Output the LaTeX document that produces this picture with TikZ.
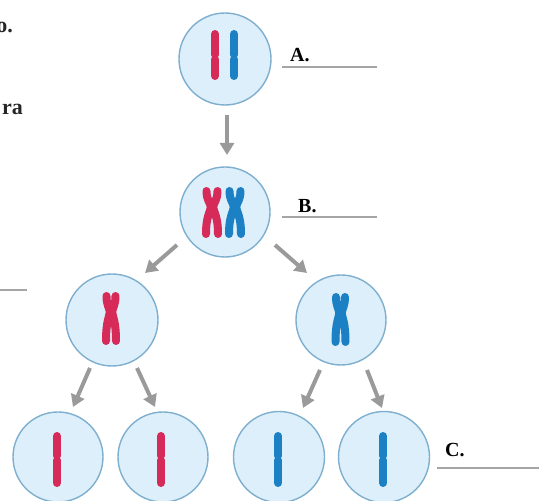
\documentclass[tikz,border=0pt]{standalone}
\usepackage{fontspec}
\setmainfont{Liberation Serif}
\usetikzlibrary{arrows.meta}
\definecolor{chrred}{HTML}{D62B59}
\definecolor{chrblue}{HTML}{1C80C5}
\definecolor{cellfill}{HTML}{DDEFFA}
\definecolor{celledge}{HTML}{7EAFCF}
\definecolor{arrowgray}{HTML}{9A9A9A}
\definecolor{rulegray}{HTML}{A5A5A5}
\tikzset{
  cell/.style={circle, draw=celledge, fill=cellfill, line width=1.4pt,
    inner sep=0pt, minimum size=#1},
  cell/.default=91pt,
  flow/.style={draw=arrowgray, line width=4pt,
    -{Triangle[width=14pt,length=12pt]}},
  tag/.style={font=\fontsize{20}{24}\selectfont\bfseries, anchor=base west,
    inner sep=0pt},
  margintext/.style={font=\fontsize{22}{26}\selectfont\bfseries,
    anchor=base east, inner sep=0pt, text=black!85},
  blank/.style={draw=rulegray, line width=1.4pt},
  % single chromatid: colour / length above centromere / length below
  pics/rod/.style args={#1/#2/#3}{code={
    \draw[#1, line width=8pt, line cap=round]
      (0,{#2-4}) -- (0,2.5) (0,-2.5) -- (0,{-#3+4});
    \fill[#1] (-4,2.6) .. controls (-2.6,1) .. (-2.6,0) .. controls (-2.6,-1) .. (-4,-2.6)
      -- (4,-2.6) .. controls (2.6,-1) .. (2.6,0) .. controls (2.6,1) .. (4,2.6) -- cycle;
  }},
  % replicated chromosome: colour / arm above / arm below / half spread
  pics/dyad/.style args={#1/#2/#3/#4}{code={
    \draw[#1, line width=8pt, line cap=round]
      (-#4,{#2-4}) .. controls (-#4,7) and (-1.6,4) .. (-1.2,0)
        .. controls (-1.6,-5) and ({-#4-0.5},-9) .. ({-#4-0.5},{-#3+4})
      (#4,{#2-4}) .. controls (#4,7) and (1.6,4) .. (1.2,0)
        .. controls (1.6,-5) and ({#4+0.5},-9) .. ({#4+0.5},{-#3+4});
  }}
}
\begin{document}
\begin{tikzpicture}[x=1pt,y=1pt]
\useasboundingbox (0,0) rectangle (539,501);

% cells
\node[cell=92pt] (A) at (225,442) {};
\node[cell=90pt] (B) at (225,289) {};
\node[cell=92pt] (L) at (112,181) {};
\node[cell=90pt] (R) at (341,181) {};
\node[cell=90pt] (D1) at (58,44) {};
\node[cell=90pt] (D2) at (163,44) {};
\node[cell=91pt] (D3) at (279,44) {};
\node[cell=91pt] (D4) at (384,44) {};

% chromosomes
\pic at ([shift={(-10,2)}]A.center) {rod=chrred/27/23};
\pic at ([shift={(9,2)}]A.center) {rod=chrblue/27/23};
\pic at ([shift={(-13,5)}]B.center) {dyad=chrred/20/31/5.5};
\pic at ([shift={(10,5)}]B.center) {dyad=chrblue/20/31/5.5};
\pic at ([shift={(-1,8)}]L.center) {dyad=chrred/20/33/4.5};
\pic at ([shift={(-0.5,7)}]R.center) {dyad=chrblue/20/33/4.5};
\pic at ([shift={(-1,-1)}]D1.center) {rod=chrred/26/29};
\pic at ([shift={(-2,-1)}]D2.center) {rod=chrred/26/29};
\pic at ([shift={(-1,-1)}]D3.center) {rod=chrblue/26/29};
\pic at ([shift={(-1,-1)}]D4.center) {rod=chrblue/26/29};

% arrows
\draw[flow] ([shift={(2,-56)}]A.center) -- ([shift={(2,57)}]B.center);
\draw[flow] ([shift={(-48,-33)}]B.center) -- ([shift={(33,47)}]L.center);
\draw[flow] ([shift={(50,-33)}]B.center) -- ([shift={(-34,47)}]R.center);
\draw[flow] ([shift={(-22,-48)}]L.center) -- ([shift={(15,50)}]D1.center);
\draw[flow] ([shift={(25,-48)}]L.center) -- ([shift={(-8,50)}]D2.center);
\draw[flow] ([shift={(-21,-50)}]R.center) -- ([shift={(24,49)}]D3.center);
\draw[flow] ([shift={(26,-50)}]R.center) -- ([shift={(-2,49)}]D4.center);

% labels with answer blanks
\node[tag] (la) at (290,439) {A.};
\draw[blank] ([shift={(-8,-5)}]la.base west) -- ++(95,0);
\node[tag] (lb) at (298,288) {B.};
\draw[blank] ([shift={(-16,-4)}]lb.base west) -- ++(95,0);
\node[tag] (lc) at (445,44) {C.};
\draw[blank] ([shift={(-8,-11)}]lc.base west) -- ++(102,0);

% text of the neighbouring column
\node[margintext] (po) at (13,468) {o.};
\node[margintext] (pra) at (23,386) {ra};
\coordinate (pl) at (0,211);
\draw[blank] (pl) -- ++(27,0);
\end{tikzpicture}
\end{document}
